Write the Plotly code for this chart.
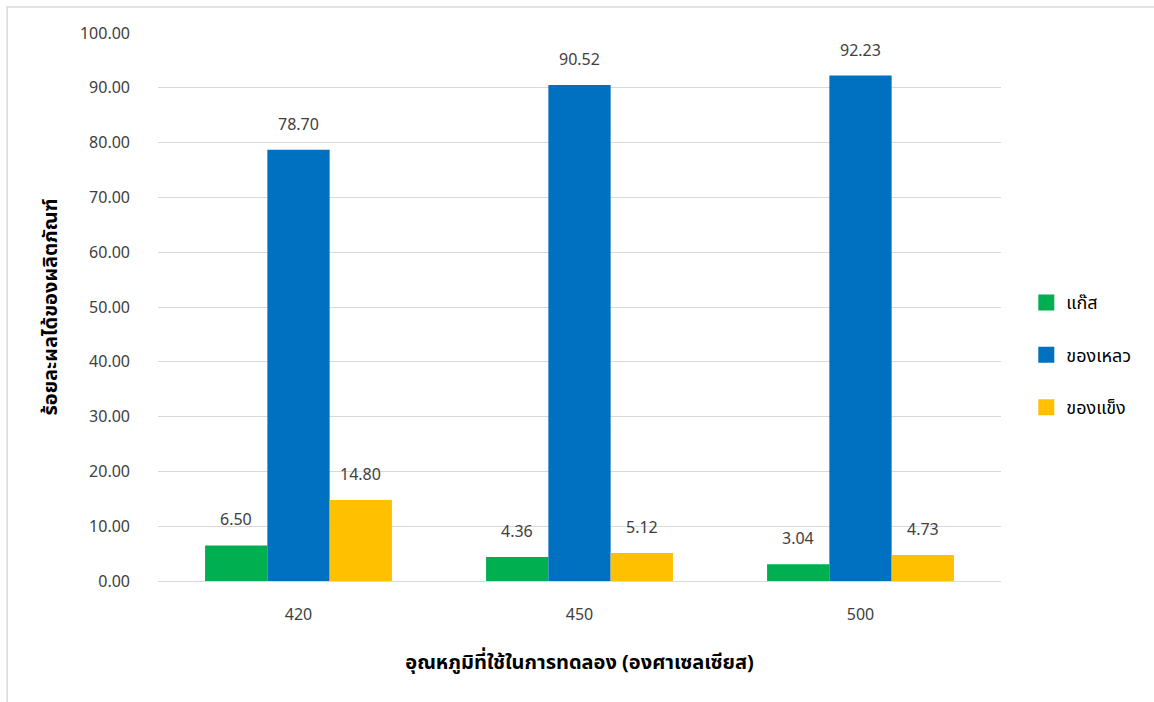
import plotly.graph_objects as go

# Pyrolysis product yields by reaction temperature
temperatures = ["420", "450", "500"]
series_names = ["แก๊ส", "ของเหลว", "ของแข็ง"]
gas = [6.50, 4.36, 3.04]
liquid = [78.70, 90.52, 92.23]
solid = [14.80, 5.12, 4.73]
colors = ["#00B050", "#0070C0", "#FFC000"]
y_ticks = [0, 10, 20, 30, 40, 50, 60, 70, 80, 90, 100]

FONT = "Leelawadee UI, Tahoma, Noto Sans Thai, Noto Sans, sans-serif"
TEXT_COLOR = "#404040"
BARGAP = 0.335

fig = go.Figure()
all_series = [gas, liquid, solid]
for k, (name, vals, col) in enumerate(zip(series_names, all_series, colors)):
    fig.add_trace(go.Bar(
        x=temperatures, y=vals, name=name,
        marker=dict(color=col, line=dict(width=0)),
        legendgroup=name, showlegend=False,
    ))
    # square legend key for the series
    fig.add_trace(go.Scatter(
        x=[None], y=[None], mode="markers", name=name,
        marker=dict(symbol="square", size=17, color=col),
        legendgroup=name, showlegend=True,
    ))

# value labels above each bar
n = len(all_series)
bar_w = (1 - BARGAP) / n
for k, vals in enumerate(all_series):
    for j, v in enumerate(vals):
        fig.add_annotation(
            x=j + (k - (n - 1) / 2) * bar_w, y=v, xref="x", yref="y",
            text=f"{v:.2f}", showarrow=False, yshift=25,
            font=dict(size=16, color=TEXT_COLOR, family=FONT),
        )

# light outer frame of the chart
fig.add_shape(type="rect", xref="paper", yref="paper",
              x0=-0.179, x1=1.3, y0=-0.3, y1=1.0474,
              line=dict(color="#D9D9D9", width=1.5), fillcolor="rgba(0,0,0,0)",
              layer="below")

fig.update_layout(
    width=1154, height=702,
    margin=dict(l=158, r=153, t=33, b=121),
    paper_bgcolor="white", plot_bgcolor="white",
    barmode="group", bargap=BARGAP, bargroupgap=0,
    font=dict(family=FONT, color=TEXT_COLOR, size=16),
    xaxis=dict(
        type="category", showgrid=False, showline=False, ticks="",
        tickfont=dict(size=16, color=TEXT_COLOR), ticklabelstandoff=22,
        title=dict(text="<b>อุณหภูมิที่ใช้ในการทดลอง (องศาเซลเซียส)</b>",
                   font=dict(size=20, color="#000000"), standoff=28),
    ),
    yaxis=dict(
        range=[0, 100], tickvals=y_ticks, tickformat=".2f",
        showgrid=True, gridcolor="#D9D9D9", gridwidth=1.3,
        zeroline=True, zerolinecolor="#D9D9D9", zerolinewidth=1.3,
        showline=False, ticks="", ticklabelstandoff=27,
        tickfont=dict(size=16, color=TEXT_COLOR),
        title=dict(text="<b>ร้อยละผลได้ของผลิตภัณฑ์</b>",
                   font=dict(size=20, color="#000000"), standoff=16),
    ),
    legend=dict(
        x=1.030, y=0.412, xanchor="left", yanchor="middle",
        font=dict(size=18, color="#000000"), tracegroupgap=26,
        bgcolor="rgba(0,0,0,0)",
    ),
    showlegend=True,
)

fig.write_html("out.html")
